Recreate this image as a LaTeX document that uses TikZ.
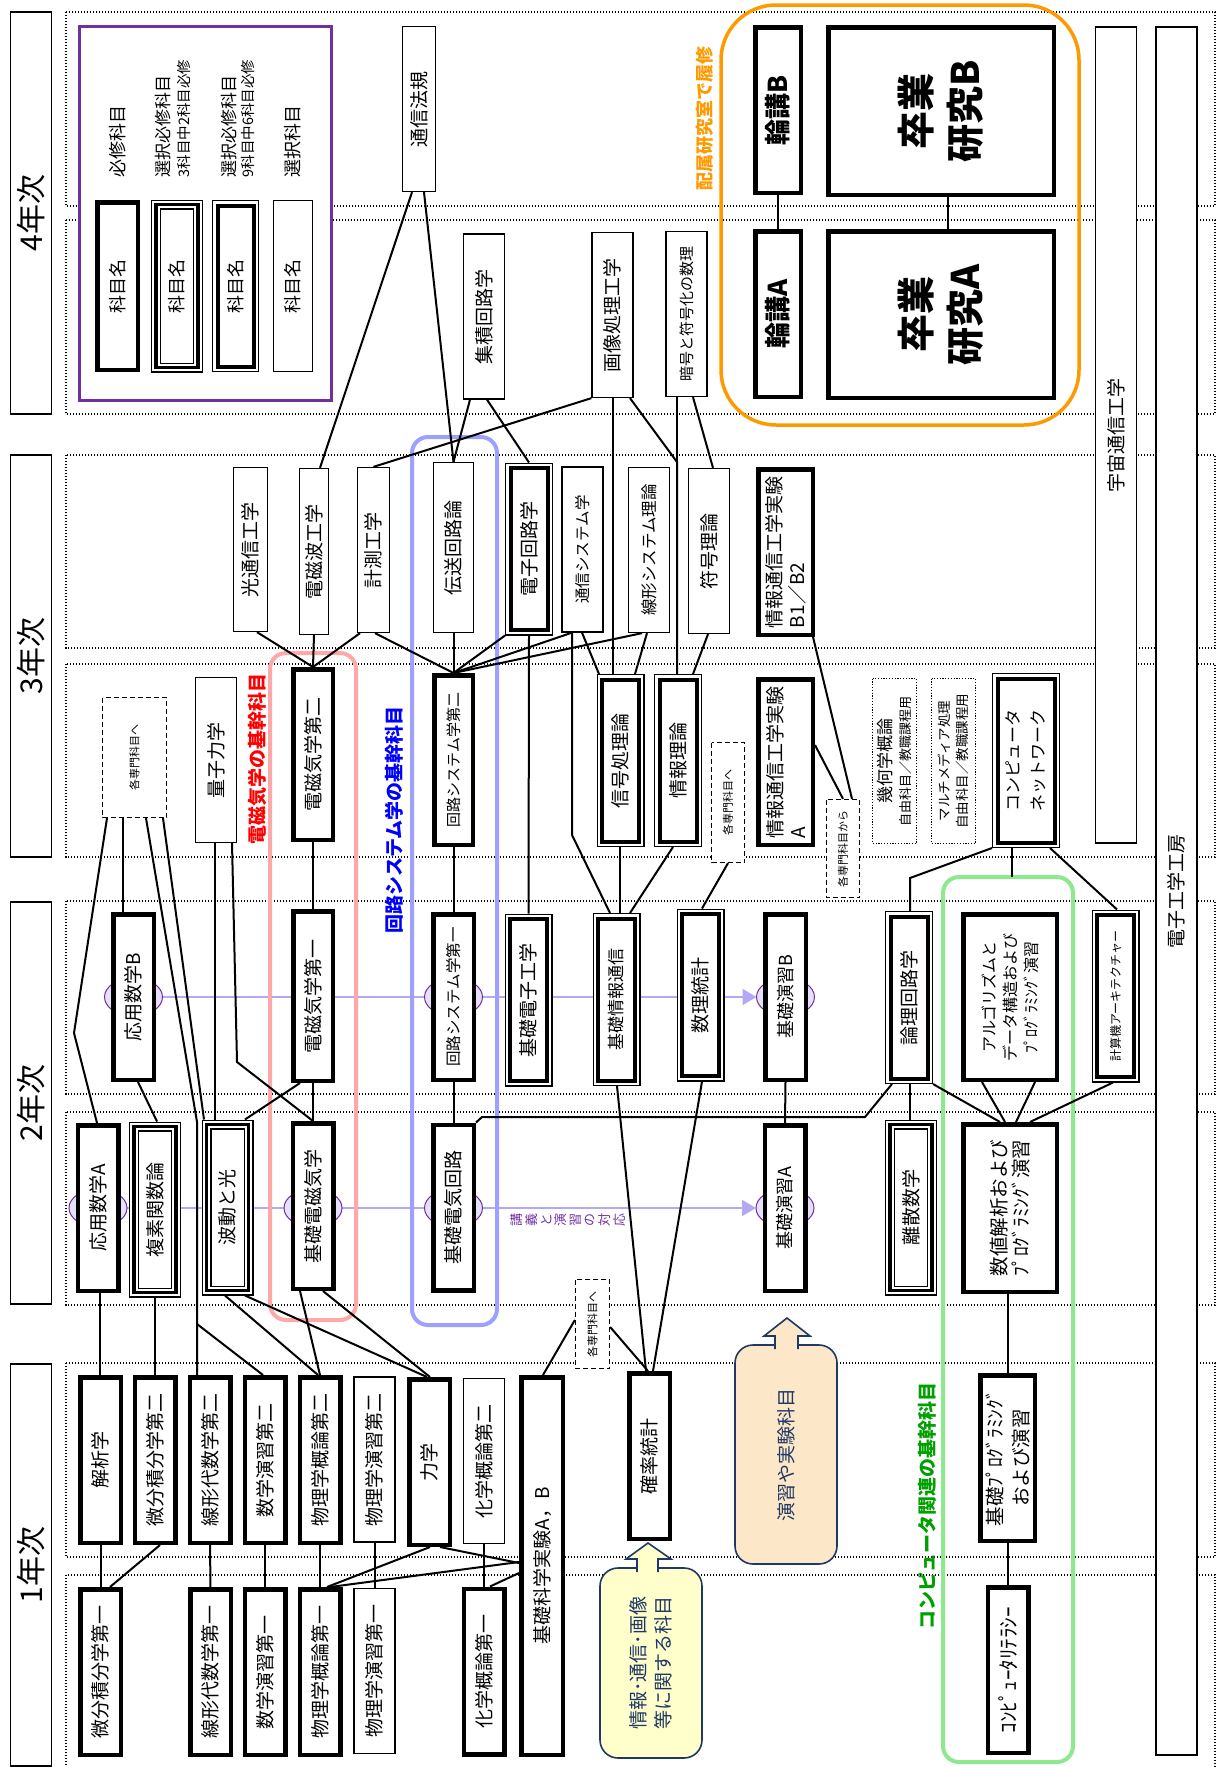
\documentclass[tikz,border=0pt]{standalone}
\usepackage{fontspec}
\setmainfont{Noto Sans CJK JP}
\usetikzlibrary{arrows.meta,backgrounds}

\newcommand{\fsz}[2]{\fontsize{#1}{#2}\selectfont}

\definecolor{legendpurple}{HTML}{7030A0}
\definecolor{corrline}{HTML}{B4A8F4}
\definecolor{corrfill}{HTML}{E6E0F8}
\definecolor{labbox}{HTML}{FF9900}
\definecolor{emframe}{HTML}{FFA8A8}
\definecolor{csframe}{HTML}{9CA0FF}
\definecolor{cpframe}{HTML}{8EE88E}
\definecolor{cpgreen}{HTML}{00A000}
\definecolor{navy}{HTML}{1F3864}
\definecolor{beige}{HTML}{FCE8C8}
\definecolor{paleyellow}{HTML}{FFFFCC}

\tikzset{
  psize/.style 2 args={minimum height=#1, minimum width=#2},
  subj/.style={rotate=90, inner sep=0pt, align=center, font=\fsz{19}{24}},
  req/.style={subj, psize={40.5pt}{165.5pt}, draw, fill=white, line width=4.5pt},
  opt/.style={subj, psize={41pt}{165pt}, draw, fill=white, line width=1.3pt},
  dbl/.style={subj, psize={37pt}{162pt}, outer sep=5.5pt,
              preaction={draw=black, line width=11pt},
              preaction={draw=white, line width=8.4pt},
              draw, fill=white, line width=4pt},
  tri/.style={subj, psize={42pt}{166pt}, outer sep=5pt,
              preaction={fill=white},
              preaction={draw=black, line width=10pt},
              preaction={draw=white, line width=7.4pt},
              draw, line width=3.4pt},
  tosenmon/.style={subj, draw, fill=white, line width=1.3pt,
              dash pattern=on 5pt off 3pt, font=\fsz{11}{13}},
  freebox/.style={subj, draw, fill=white, line width=1.2pt,
              dash pattern=on 1.2pt off 1.6pt},
  yearbox/.style={draw, fill=white, line width=1.3pt, rotate=90,
              minimum width=402pt, minimum height=41pt, font=\fsz{30}{30}},
  colbox/.style={draw, fill=white, line width=1.3pt, rotate=90,
              minimum height=41pt, font=\fsz{19}{19}},
  band/.style={line width=1.2pt, dash pattern=on 1.2pt off 1.8pt},
  grp/.style={line width=4pt, rounded corners=16pt},
  grptext/.style={rotate=90, font=\fsz{19}{19}\bfseries},
  legtext/.style={rotate=90, anchor=west, font=\fsz{18}{18}},
  link/.style={line width=2pt},
  corr/.style={corrline, line width=2pt},
  lens/.style={draw=legendpurple, fill=corrfill, line width=1pt},
  callout/.style={draw=navy, line width=1.6pt, rounded corners=18pt},
}

\begin{document}
\begin{tikzpicture}[x=1pt,y=-1pt]
  \useasboundingbox (0,0) rectangle (1219,1767);

  \draw[band] (66,12) rectangle (1215,206);
  \draw[band] (66,220) rectangle (1215,414);
  \draw[band] (66,455) rectangle (1215,648);
  \draw[band] (66,664) rectangle (1215,857);
  \draw[band] (66,901) rectangle (1215,1094);
  \draw[band] (66,1112) rectangle (1215,1305);
  \draw[band] (66,1363) rectangle (1215,1557);
  \draw[band] (66,1575) rectangle (1215,1785);

  \node[yearbox] (year4) at (31,213) {4年次};
  \node[yearbox] (year3) at (31,656) {3年次};
  \node[yearbox] (year2) at (31,1103) {2年次};
  \node[yearbox] (year1) at (31,1565) {1年次};

  \node[colbox, minimum width=816pt] (uchu) at (1116,435) {宇宙通信工学};
  \node[colbox, minimum width=1728pt] (kobo) at (1176.5,891) {電子工学工房};

  \draw[grp, emframe] (270,653) rectangle (356,1320);
  \draw[grp, csframe] (412,437) rectangle (497,1325);
  \draw[grp, cpframe] (943,877) rectangle (1073,1762);
  \draw[labbox, line width=3.5pt, rounded corners=55pt] (721,5) rectangle (1079,425);

  \draw[legendpurple, line width=3pt, fill=white] (79,26) rectangle (331,400);
  \node[req, psize={40.5pt}{167.5pt}, font=\fsz{18}{18}] (leg1) at (117.5,286) {科目名};
  \node[tri, psize={42pt}{163pt}, font=\fsz{18}{18}] (leg2) at (177,286) {科目名};
  \node[dbl, psize={36pt}{161pt}, font=\fsz{18}{18}] (leg3) at (235.5,286) {科目名};
  \node[opt, psize={39pt}{171pt}, font=\fsz{18}{18}] (leg4) at (293,286) {科目名};
  \node[legtext] (legt1) at (118,181) {必修科目};
  \node[legtext, font=\fsz{17}{17}] (legt2) at (163,181) {選択必修科目};
  \node[legtext, font=\fsz{14.5}{14.5}] (legt2s) at (184,181) {3科目中2科目必修};
  \node[legtext, font=\fsz{17}{17}] (legt3) at (229,181) {選択必修科目};
  \node[legtext, font=\fsz{14.5}{14.5}] (legt3s) at (248,181) {9科目中6科目必修};
  \node[legtext] (legt4) at (293,181) {選択科目};

  \node[opt, psize={33pt}{165pt}] (tsushinhoki) at (419,109) {通信法規};
  \node[opt] (shuseki) at (484,316.5) {集積回路学};
  \node[opt] (gazo) at (612.5,315) {画像処理工学};
  \node[opt, font=\fsz{15}{15}] (angou) at (686.5,314) {暗号と符号化の数理};
  \node[req, psize={45.5pt}{165.5pt}, font=\fsz{26}{26}\bfseries] (rinkoB) at (778,110) {輪講B};
  \node[req, psize={45.5pt}{165.5pt}, font=\fsz{26}{26}\bfseries] (rinkoA) at (778,314) {輪講A};
  \node[req, psize={225.5pt}{167.5pt}, font=\fsz{38}{49}\bfseries] (sotsukenB) at (941,111) {卒業\\研究B};
  \node[req, psize={225.5pt}{166.5pt}, font=\fsz{38}{49}\bfseries] (sotsukenA) at (941,314.5) {卒業\\研究A};
  \node[grptext, text=labbox, font=\fsz{18}{18}\bfseries] (lablabel) at (705,118) {配属研究室で履修};

  \node[opt, psize={34pt}{164pt}] (hikari) at (250.5,549.5) {光通信工学};
  \node[opt, psize={29pt}{166pt}] (denjiha) at (314,551.5) {電磁波工学};
  \node[opt, psize={32pt}{165pt}] (keisoku) at (373.5,550) {計測工学};
  \node[opt, psize={40pt}{170pt}] (densou) at (453.5,547.5) {伝送回路論};
  \node[dbl] (denshikairo) at (529,549) {電子回路学};
  \node[opt, font=\fsz{15.5}{15.5}] (tsushinsys) at (582.5,549.5) {通信システム学};
  \node[opt, font=\fsz{16.5}{16.5}] (senkeisys) at (649,550) {線形システム理論};
  \node[opt] (fugou) at (709,551) {符号理論};
  \node[req, psize={54.5pt}{165.5pt}, align=left, font=\fsz{19}{23}] (jikkenB) at (785.5,552) {情報通信工学実験\\B1／B2};

  \node[tosenmon, psize={64pt}{120pt}] (senmon1) at (134.5,757.5) {各専門科目へ};
  \node[opt] (ryoshi) at (216,760) {量子力学};
  \node[req, psize={39.5pt}{170.5pt}] (denji2) at (313,754.5) {電磁気学第二};
  \node[req, psize={38.5pt}{169.5pt}, font=\fsz{15}{15}] (kairo2) at (453.5,760) {回路システム学第二};
  \node[dbl] (shingou) at (620.5,760.5) {信号処理論};
  \node[dbl] (jouhou) at (678,760.5) {情報理論};
  \node[tosenmon, psize={33pt}{120pt}] (senmon2) at (728,802.5) {各専門科目へ};
  \node[req, psize={54.5pt}{165.5pt}, align=left, font=\fsz{19}{23}] (jikkenA) at (785.5,762) {情報通信工学実験\\A};
  \node[tosenmon, psize={33pt}{98pt}] (senmon3) at (843,848.5) {各専門科目から};
  \node[freebox, psize={44pt}{165pt}, font=\fsz{13}{19}] (kika) at (894.5,761) {{\fsz{17}{19}幾何学概論}\\自由科目／教職課程用};
  \node[freebox, psize={44pt}{165pt}, font=\fsz{13.5}{18}] (multi) at (953.5,761) {マルチメディア処理\\自由科目／教職課程用};
  \node[dbl, psize={57pt}{164pt}, font=\fsz{17}{25}] (network) at (1026,760.5) {コンピュータ\\ネットワーク};

  \node[grptext, text=red] (emlabel) at (257,758.5) {電磁気学の基幹科目};
  \node[grptext, text=blue] (cslabel) at (394,820) {回路システム学の基幹科目};

  \node[req] (ouyouB) at (133.5,997) {応用数学B};
  \node[req, psize={39.5pt}{169.5pt}] (denji1) at (313,996) {電磁気学第一};
  \node[req, font=\fsz{15.5}{15.5}] (kairo1) at (453.5,997) {回路システム学第一};
  \node[dbl] (kisodenshi) at (528.5,1000) {基礎電子工学};
  \node[dbl, font=\fsz{17}{17}] (kisojouhou) at (616.5,999.5) {基礎情報通信};
  \node[dbl] (suritokei) at (700.5,995) {数理統計};
  \node[req, font=\fsz{18}{18}] (enshuB) at (785.5,997) {基礎演習B};
  \node[dbl] (ronri) at (909,997.5) {論理回路学};
  \node[req, psize={93.5pt}{165.5pt}, font=\fsz{16}{21}] (algo) at (1010,997) {アルゴリズムと\\データ構造および\\ﾌﾟﾛｸﾞﾗﾐﾝｸﾞ演習};
  \node[dbl, font=\fsz{12}{12}] (arch) at (1115.5,996) {計算機アーキテクチャー};

  \node[req] (ouyouA) at (98,1208) {応用数学A};
  \node[tri] (fukuso) at (155,1209.5) {複素関数論};
  \node[tri] (hadou) at (227.5,1207.5) {波動と光};
  \node[req] (kisodenji) at (313,1206) {基礎電磁気学};
  \node[req] (kisodenki) at (453.5,1207.5) {基礎電気回路};
  \node[req, font=\fsz{18}{18}] (enshuA) at (785,1208) {基礎演習A};
  \node[tri] (risan) at (911,1207.5) {離散数学};
  \node[req, psize={93.5pt}{167.5pt}, font=\fsz{19.5}{22}] (suchi) at (1010,1208) {数値解析および\\ﾌﾟﾛｸﾞﾗﾐﾝｸﾞ演習};
  \node[rotate=90, text=legendpurple, align=center, font=\fsz{13}{14.6}] (taiou) at (568,1220) {講\\義\\と\\演\\習\\の\\対\\応};

  \node[req] (kaiseki) at (100.5,1460) {解析学};
  \node[req] (bibun2) at (155,1460) {微分積分学第二};
  \node[req] (senkei2) at (210,1460) {線形代数学第二};
  \node[req] (sugaku2) at (265,1460) {数学演習第二};
  \node[req] (butsuri2) at (320,1460) {物理学概論第二};
  \node[opt] (butsuen2) at (374.5,1459.5) {物理学演習第二};
  \node[req] (rikigaku) at (429.5,1462) {力学};
  \node[opt] (kagaku2) at (484,1461) {化学概論第二};
  \node[req, psize={41.5pt}{377.5pt}] (kisojikken) at (542,1566) {基礎科学実験A，B};
  \node[tosenmon, psize={34pt}{89pt}] (senmon4) at (592.5,1324) {各専門科目へ};
  \node[req] (kakuritsu) at (649.5,1456) {確率統計};
  \node[req, psize={54.5pt}{165.5pt}, font=\fsz{19.5}{26}] (kisopro) at (1007.5,1458) {基礎ﾌﾟﾛｸﾞﾗﾐﾝｸﾞ\\および演習};

  \node[req] (bibun1) at (100.5,1672) {微分積分学第一};
  \node[req] (senkei1) at (210.5,1672) {線形代数学第一};
  \node[req] (sugaku1) at (265,1672) {数学演習第一};
  \node[req] (butsuri1) at (320,1672) {物理学概論第一};
  \node[opt] (butsuen1) at (374.5,1671) {物理学演習第一};
  \node[req] (kagaku1) at (484,1671.5) {化学概論第一};
  \node[req, font=\fsz{21}{21}] (literacy) at (1008,1670) {ｺﾝﾋﾟｭｰﾀﾘﾃﾗｼｰ};

  \node[grptext, text=cpgreen] (cplabel) at (927,1506) {コンピュータ関連の基幹科目};

  \draw[callout, fill=beige] (735,1345) rectangle (837,1564);
  \draw[navy, line width=1.6pt, fill=beige] (775,1349) -- (775,1336) -- (764,1336) -- (787,1318) -- (810,1336) -- (798,1336) -- (798,1349);
  \node[rotate=90, text=navy, font=\fsz{19}{24}] (enshucall) at (786,1455) {演習や実験科目};
  \draw[callout, fill=paleyellow] (600,1568) rectangle (702,1758);
  \draw[navy, line width=1.6pt, fill=paleyellow] (637,1572) -- (637,1559) -- (626,1559) -- (648,1543) -- (671,1559) -- (658,1559) -- (658,1572);
  \node[rotate=90, text=navy, align=center, font=\fsz{19}{25}] (jouhoucall) at (651,1663) {情報･通信･画像\\等に関する科目};

  \coordinate (gazobend) at (677,462);
  \coordinate (tsushinbend) at (572,835);
  \coordinate (ouyouAbend) at (74,1033);
  \coordinate (senkeibend) at (197,1122);
  \coordinate (sugakubranch) at (197,1324);
  \coordinate (ryoshibend) at (237,1062);
  \coordinate (netbend) at (910,878);
  \coordinate (cpgrouptop) at (1012,877);
  \coordinate (ronribend) at (865,1117);
  \coordinate (kisodenkibend) at (482,1117);

  \draw[link] (rinkoA.east) -- (rinkoB.west);
  \draw[link] (sotsukenA.east -| 948,0) -- (sotsukenB.west -| 948,0);
  \draw[link] (tsushinhoki.west -| 412,0) -- (denjiha.east -| 320,0);
  \draw[link] (tsushinhoki.west -| 424,0) -- (densou.east);
  \draw[link] (shuseki.west -| 470,0) -- (densou.east);
  \draw[link] (shuseki.west -| 487,0) -- (denshikairo.east);
  \draw[link] (gazo.north west) -- (keisoku.east);
  \draw[link] (gazo.west -| 613,0) -- (shingou.east -| 613,0);
  \draw[link] (gazo.west -| 630,0) -- (gazobend) -- (jouhou.east -| 677,0);
  \draw[link] (angou.west -| 677,0) -- (jouhou.east -| 677,0);
  \draw[link] (angou.west -| 693,0) -- (fugou.east -| 713,0);

  \draw[link] (hikari.west -| 257,0) -- (denji2.east);
  \draw[link] (denjiha.west) -- (denji2.east);
  \draw[link] (keisoku.west -| 360,0) -- (denji2.east);
  \draw[link] (keisoku.west -| 375,0) -- (kairo2.east);
  \draw[link] (densou.west) -- (kairo2.east);
  \draw[link] (denshikairo.north west) -- (kairo2.east);
  \draw[link] (tsushinsys.west -| 572,0) -- (kairo2.east);
  \draw[link] (senkeisys.west -| 642,0) -- (kairo2.east);
  \draw[link] (denshikairo.west) -- (kisodenshi.east);
  \draw[link] (tsushinsys.west -| 572,0) -- (tsushinbend) -- (kisojouhou.east -| 610,0);
  \draw[link] (tsushinsys.west -| 582,0) -- (shingou.east -| 599,0);
  \draw[link] (senkeisys.west -| 647,0) -- (shingou.east -| 635,0);
  \draw[link] (fugou.west -| 708,0) -- (jouhou.east -| 693,0);
  \draw[link] (jikkenB.west -| 813,0) -- (senmon3.east -| 852,0);
  \draw[link] (jikkenA.south |- 0,745) -- (senmon3.east -| 843,0);

  \draw[link] (senmon1.west -| 107,0) -- (ouyouAbend) -- (ouyouA.east -| 97,0);
  \draw[link] (senmon1.west -| 123,0) -- (ouyouB.east -| 123,0);
  \draw[link] (senmon1.west -| 146,0) -- (senkeibend) -- (senkei2.east -| 197,0);
  \draw[link] (sugakubranch) -- (sugaku2.east -| 263,0);
  \draw[link] (senmon1.west -| 163,0) -- (hadou.east -| 204,0);
  \draw[link] (ryoshi.west -| 215,0) -- (hadou.east -| 215,0);
  \draw[link] (ryoshi.west -| 232,0) -- (ryoshibend) -- (kisodenji.east);
  \draw[link] (denji2.west) -- (denji1.east);
  \draw[link] (denji1.west) -- (kisodenji.east);
  \draw[link] (denji1.west -| 300,0) -- (hadou.east -| 245,0);
  \draw[link] (ouyouB.west -| 138,0) -- (fukuso.east -| 157,0);
  \draw[link] (kairo2.west) -- (kairo1.east);
  \draw[link] (kairo1.west) -- (kisodenki.east);
  \draw[link] (shingou.west -| 620,0) -- (kisojouhou.east -| 620,0);
  \draw[link] (jouhou.west -| 673,0) -- (kisojouhou.east -| 630,0);
  \draw[link] (suritokei.east -| 702,0) -- (senmon2.west -| 728,0);
  \draw[link] (network.north west) -- (netbend) -- (ronri.east -| 910,0);
  \draw[link] (network.west -| 1012,0) -- (cpgrouptop);
  \draw[link] (network.west -| 1050,0) -- (arch.east -| 1117,0);

  \draw[link] (ronri.west -| 892,0) -- (ronribend) -- (kisodenkibend) -- (kisodenki.south east);
  \draw[link] (enshuB.west) -- (enshuA.east);
  \draw[link] (ronri.west -| 910,0) -- (risan.east -| 910,0);
  \draw[link] (ronri.south west) -- (suchi.east -| 1000,0);
  \draw[link] (algo.west -| 982,0) -- (suchi.east -| 1005,0);
  \draw[link] (algo.west -| 1035,0) -- (suchi.east -| 1016,0);
  \draw[link] (arch.west -| 1113,0) -- (suchi.east -| 1030,0);
  \draw[link] (suchi.west -| 1008,0) -- (kisopro.east -| 1008,0);
  \draw[link] (kisopro.west -| 1008,0) -- (literacy.east);
  \draw[link] (suritokei.west -| 702,0) -- (kakuritsu.east -| 653,0);
  \draw[link] (kisojouhou.west -| 617,0) -- (kakuritsu.east -| 646,0);
  \draw[link] (kakuritsu.east -| 648,0) -- (senmon4.south |- 0,1327);
  \draw[link] (kisojikken.east -| 543,0) -- (senmon4.north |- 0,1320);

  \draw[link] (ouyouA.west -| 100,0) -- (kaiseki.east -| 100,0);
  \draw[link] (fukuso.west) -- (bibun2.east);
  \draw[link] (kaiseki.west) -- (bibun1.east);
  \draw[link] (bibun2.west -| 160,0) -- (bibun1.east -| 110,0);
  \draw[link] (senkei2.west) -- (senkei1.east);
  \draw[link] (sugaku2.west) -- (sugaku1.east);
  \draw[link] (butsuri2.west) -- (butsuri1.east);
  \draw[link] (butsuen2.west) -- (butsuen1.east);
  \draw[link] (kagaku2.west) -- (kagaku1.east);
  \draw[link] (hadou.west -| 225,0) -- (butsuri2.east -| 318,0);
  \draw[link] (kisodenji.west -| 300,0) -- (butsuri2.east -| 320,0);
  \draw[link] (hadou.west -| 245,0) -- (rikigaku.east -| 427,0);
  \draw[link] (kisodenji.west -| 323,0) -- (rikigaku.east -| 430,0);
  \draw[link] (butsuri1.east -| 327,0) -- (rikigaku.west -| 430,0);
  \draw[link] (butsuri1.east -| 330,0) -- (kisojikken.north |- 0,1562);
  \draw[link] (rikigaku.west -| 440,0) -- (kisojikken.north |- 0,1563);
  \draw[link] (kagaku1.east -| 490,0) -- (kisojikken.north |- 0,1573);

  \begin{pgfonlayer}{background}
    \draw[corr, -{Triangle[length=14pt, width=16pt]}] (ouyouB.center) -- ([xshift=-29pt]enshuB.center);
    \draw[corr, -{Triangle[length=14pt, width=16pt]}] (ouyouA.center) -- ([xshift=-29pt]enshuA.center);
    \draw[lens] (ouyouB.center) ellipse [x radius=29pt, y radius=19pt];
    \draw[lens] (kairo1.center) ellipse [x radius=29pt, y radius=19pt];
    \draw[lens] (enshuB.center) ellipse [x radius=29pt, y radius=19pt];
    \draw[lens] (ouyouA.center) ellipse [x radius=29pt, y radius=19pt];
    \draw[lens] (kisodenji |- ouyouA) ellipse [x radius=29pt, y radius=19pt];
    \draw[lens] (kisodenki |- ouyouA) ellipse [x radius=29pt, y radius=19pt];
    \draw[lens] (enshuA.center) ellipse [x radius=29pt, y radius=19pt];
  \end{pgfonlayer}
\end{tikzpicture}
\end{document}
